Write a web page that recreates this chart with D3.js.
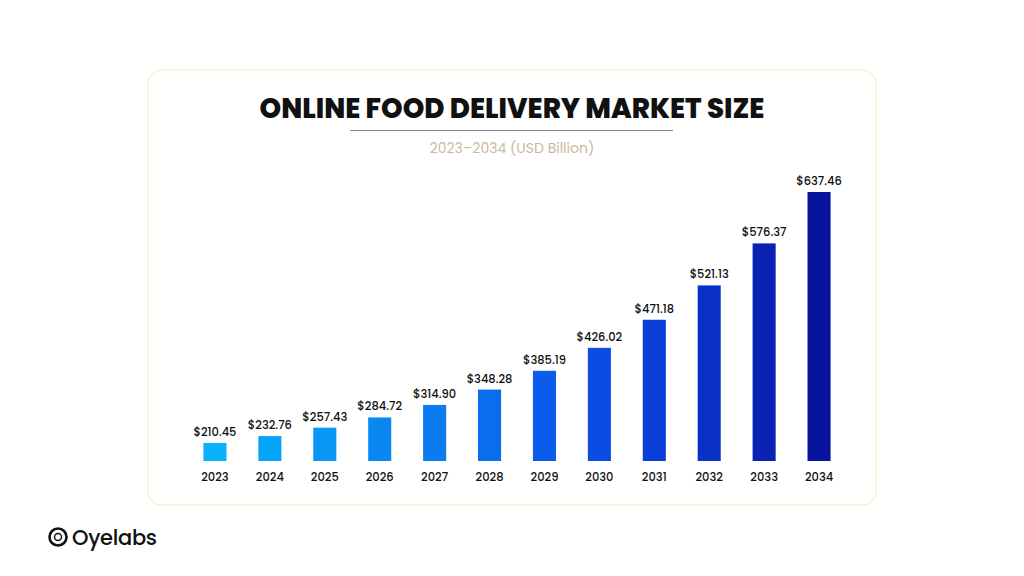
<!DOCTYPE html>
<html><head><meta charset="utf-8">
<script src="https://cdn.jsdelivr.net/npm/d3@7"></script>
<style>body{margin:0;background:#fff}svg{display:block}</style>
</head><body><svg id="c" width="1024" height="576"></svg>
<script>
const years = ["2023","2024","2025","2026","2027","2028","2029","2030","2031","2032","2033","2034"];
const values = [210.45,232.76,257.43,284.72,314.90,348.28,385.19,426.02,471.18,521.13,576.37,637.46];
const colors = ["#0ab0f8","#06a4f8","#0897f6","#0a88f2","#0a7bf0","#0a6cee","#0b5cec","#0b4ce4","#0b3ed8","#0a30c8","#0a22b4","#08129c"];
const F = "Poppins, Inter, sans-serif";
const svg = d3.select("#c");
svg.append("rect").attr("x",148).attr("y",70).attr("width",728).attr("height",435).attr("rx",14)
  .attr("fill","#fff").attr("stroke","#f6f2d6").attr("stroke-width",1.5);
svg.append("text").attr("x",512).attr("y",118).attr("text-anchor","middle")
  .attr("font-family",F).attr("font-weight",800).attr("font-size",27.5)
  .attr("fill","#111").attr("letter-spacing","0").text("ONLINE FOOD DELIVERY MARKET SIZE");
svg.append("line").attr("x1",350).attr("x2",673).attr("y1",130.5).attr("y2",130.5).attr("stroke","#888").attr("stroke-width",1);
svg.append("text").attr("x",512).attr("y",153).attr("text-anchor","middle")
  .attr("font-family",F).attr("font-size",14).attr("fill","#c9bb9c").text("2023–2034 (USD Billion)");

const x = d3.scaleBand().domain(years).range([187.5,846.5]).paddingInner(0.58).paddingOuter(0.29);
const y = d3.scalePow().exponent(2).domain([135,637.46]).range([461,192]);

const g = svg.append("g");
g.selectAll("rect.b").data(values).join("rect").attr("class","b")
  .attr("x",(d,i)=>x(years[i])).attr("width",x.bandwidth())
  .attr("y",d=>y(d)).attr("height",d=>461-y(d)).attr("fill",(d,i)=>colors[i]);
g.selectAll("text.v").data(values).join("text").attr("class","v")
  .attr("x",(d,i)=>x(years[i])+x.bandwidth()/2).attr("y",d=>y(d)-7)
  .attr("text-anchor","middle").attr("font-family",F).attr("font-weight",500)
  .attr("font-size",11.5).attr("fill","#111").text(d=>"$"+d.toFixed(2));
const ax = svg.append("g").attr("transform","translate(0,461)").call(d3.axisBottom(x).tickSize(0).tickPadding(12));
ax.select(".domain").remove();
ax.selectAll("text").attr("font-family",F).attr("font-weight",500).attr("font-size",11.5).attr("fill","#111");

const lg = svg.append("g").attr("transform","translate(58,537)");
lg.append("circle").attr("r",8.5).attr("fill","none").attr("stroke","#111").attr("stroke-width",2.6);
lg.append("circle").attr("r",3.5).attr("fill","none").attr("stroke","#111").attr("stroke-width",1.5);
svg.append("text").attr("x",72).attr("y",545).attr("font-family",F).attr("font-weight",500)
  .attr("font-size",21).attr("fill","#111").attr("letter-spacing","-0.3").text("Oyelabs");
</script></body></html>
